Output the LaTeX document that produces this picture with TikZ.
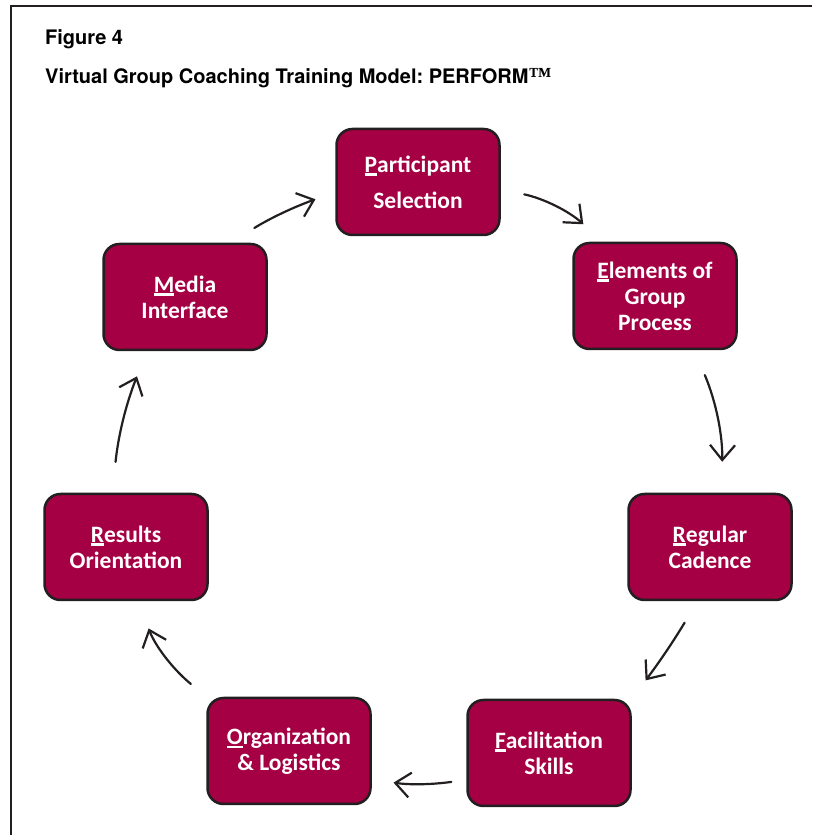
\documentclass[tikz,border=0pt]{standalone}
\usepackage{fontspec}
\setmainfont{Carlito}
\newfontfamily\headfont{TeX Gyre Heros}
\newfontfamily\tmfont{Liberation Serif}
\usetikzlibrary{arrows.meta}
\definecolor{perfred}{RGB}{165,0,68}
\definecolor{edgegray}{RGB}{35,31,32}
\frenchspacing
% underlined key letter of each stage
\newsavebox\keybox
\newcommand\keyletter[1]{\sbox\keybox{#1}\rlap{\rule[-3.5pt]{\wd\keybox}{2.2pt}}\usebox\keybox}

\begin{document}
\begin{tikzpicture}[x=1pt,y=1pt,
  stage/.style={draw=edgegray, line width=2.5pt, fill=perfred, rounded corners=16pt,
    minimum width=163pt, minimum height=106pt, text=white, align=center,
    font=\fontsize{23.5}{26}\selectfont\bfseries},
  flow/.style={draw=edgegray, line width=2.2pt, line cap=round, line join=round,
    -{Straight Barb[length=15pt,width=25pt]}},
  heading/.style={anchor=base west, inner sep=0pt,
    font=\headfont\bfseries\fontsize{20}{24}\selectfont}]
\useasboundingbox (0,0) rectangle (812,835);
% Frame
\draw[edgegray, line width=2pt] (11,0) -- (11,829) -- (812,829);
% Heading
\node[heading] (fig) at (45,790) {Figure 4};
\node[heading] (title) at (45,751) {Virtual Group Coaching Training Model: PERFORM{\tmfont\fontsize{23}{24}\selectfont ™}};
% Stages
\node[stage] (part) at (418,653) {\keyletter{P}articipant\\[10pt]Selection};
\node[stage] (elem) at (655,539) {\keyletter{E}lements of\\Group\\Process};
\node[stage] (reg) at (710,288) {\keyletter{R}egular\\Cadence};
\node[stage] (fac) at (549,82) {\keyletter{F}acilitation\\Skills};
\node[stage] (org) at (289,84) {\keyletter{O}rganization\\\& Logistics};
\node[stage] (res) at (126,288) {\keyletter{R}esults\\Orientation};
\node[stage] (media) at (185,538) {\keyletter{M}edia\\Interface};
% Cycle arrows
\draw[flow, shorten <=28pt, shorten >=21pt] (media.50) to[bend left=6] (part.187);
\draw[flow, shorten <=24pt, shorten >=26pt] (part.355) to[bend left=15] (elem.134);
\draw[flow, shorten <=27pt, shorten >=31pt] (elem.306) to[bend left=12] (reg.78);
\draw[flow, shorten <=25pt, shorten >=23pt] (reg.257) to[bend left=3] (fac.north east);
\draw[flow, shorten <=15pt, shorten >=22pt] (fac.198) to[bend left=8] (org.341);
\draw[flow, shorten <=20pt, shorten >=29pt] (org.north west) to[bend left=15] (res.283);
\draw[flow, shorten <=31pt, shorten >=27pt] (res.104) to[bend left=8] (media.235);
\end{tikzpicture}
\end{document}
